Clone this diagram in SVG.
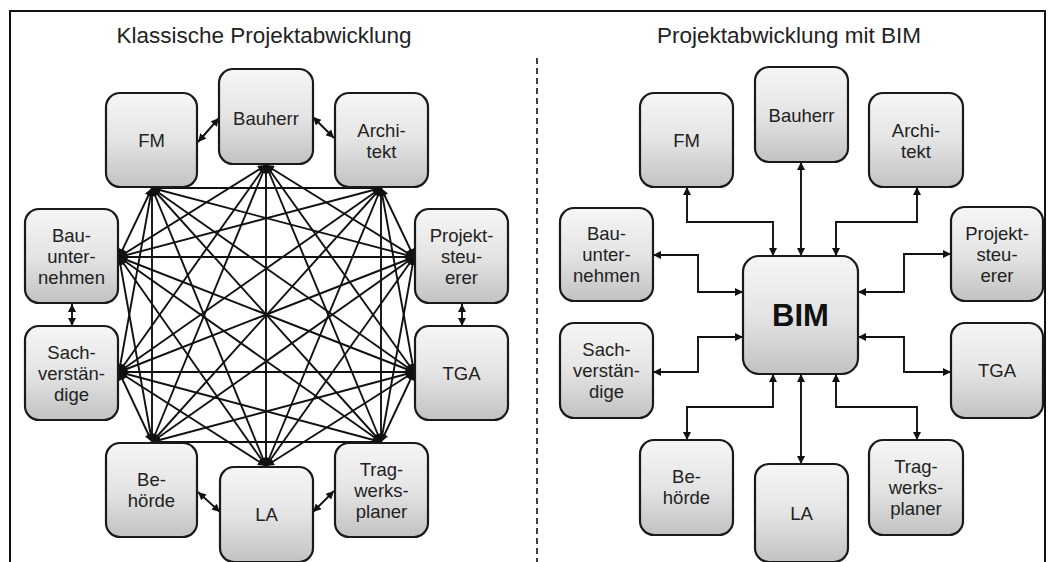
<svg xmlns="http://www.w3.org/2000/svg" width="1055" height="562" viewBox="0 0 1055 562">
<defs>
<linearGradient id="g" x1="0" y1="0" x2="0" y2="1">
<stop offset="0" stop-color="#f6f6f6"/>
<stop offset="0.5" stop-color="#e4e4e4"/>
<stop offset="1" stop-color="#c2c2c2"/>
</linearGradient>
<marker id="a" viewBox="0 0 10 10" refX="10" refY="5" markerWidth="9" markerHeight="8" markerUnits="userSpaceOnUse" orient="auto-start-reverse">
<path d="M0,0 L10,5 L0,10 z" fill="#111"/>
</marker>
</defs>
<style>
.box{fill:url(#g);stroke:#1a1a1a;stroke-width:2.2}
.t{font-family:"Liberation Sans",Arial,sans-serif;font-size:18.5px;fill:#222;text-anchor:middle}
.title{font-family:"Liberation Sans",Arial,sans-serif;font-size:22.5px;fill:#222;text-anchor:middle}
.big{font-family:"Liberation Sans",Arial,sans-serif;font-size:31px;font-weight:bold;fill:#111;text-anchor:middle}
.c line,.c path{stroke:#111;stroke-width:1.9;fill:none;marker-start:url(#a);marker-end:url(#a)}
</style>
<rect x="0" y="0" width="1055" height="562" fill="#fff"/>
<path d="M10,562 V11 H1045 V562" fill="none" stroke="#111" stroke-width="2"/>
<line x1="537" y1="58" x2="537" y2="562" stroke="#111" stroke-width="1.6" stroke-dasharray="6 4"/>
<text class="title" x="264" y="43">Klassische Projektabwicklung</text>
<text class="title" x="789" y="43">Projektabwicklung mit BIM</text>

<g id="connectors" class="c">
<line x1="152" y1="188" x2="381" y2="188"/>
<line x1="152" y1="188" x2="414" y2="257"/>
<line x1="152" y1="188" x2="414" y2="372"/>
<line x1="152" y1="188" x2="381" y2="442"/>
<line x1="152" y1="188" x2="266" y2="466"/>
<line x1="152" y1="188" x2="152" y2="442"/>
<line x1="152" y1="188" x2="119" y2="372"/>
<line x1="152" y1="188" x2="119" y2="257"/>
<line x1="266" y1="165" x2="414" y2="257"/>
<line x1="266" y1="165" x2="414" y2="372"/>
<line x1="266" y1="165" x2="381" y2="442"/>
<line x1="266" y1="165" x2="266" y2="466"/>
<line x1="266" y1="165" x2="152" y2="442"/>
<line x1="266" y1="165" x2="119" y2="372"/>
<line x1="266" y1="165" x2="119" y2="257"/>
<line x1="381" y1="188" x2="414" y2="257"/>
<line x1="381" y1="188" x2="414" y2="372"/>
<line x1="381" y1="188" x2="381" y2="442"/>
<line x1="381" y1="188" x2="266" y2="466"/>
<line x1="381" y1="188" x2="152" y2="442"/>
<line x1="381" y1="188" x2="119" y2="372"/>
<line x1="381" y1="188" x2="119" y2="257"/>
<line x1="414" y1="257" x2="381" y2="442"/>
<line x1="414" y1="257" x2="266" y2="466"/>
<line x1="414" y1="257" x2="152" y2="442"/>
<line x1="414" y1="257" x2="119" y2="372"/>
<line x1="414" y1="257" x2="119" y2="257"/>
<line x1="414" y1="372" x2="381" y2="442"/>
<line x1="414" y1="372" x2="266" y2="466"/>
<line x1="414" y1="372" x2="152" y2="442"/>
<line x1="414" y1="372" x2="119" y2="372"/>
<line x1="414" y1="372" x2="119" y2="257"/>
<line x1="381" y1="442" x2="152" y2="442"/>
<line x1="381" y1="442" x2="119" y2="372"/>
<line x1="381" y1="442" x2="119" y2="257"/>
<line x1="266" y1="466" x2="119" y2="372"/>
<line x1="266" y1="466" x2="119" y2="257"/>
<line x1="152" y1="442" x2="119" y2="372"/>
<line x1="152" y1="442" x2="119" y2="257"/>
<line x1="198" y1="142" x2="219" y2="118"/>
<line x1="313" y1="117" x2="334" y2="138"/>
<line x1="72" y1="304" x2="72" y2="326"/>
<line x1="462" y1="304" x2="462" y2="326"/>
<line x1="198" y1="492" x2="220" y2="512"/>
<line x1="313" y1="512" x2="334" y2="491"/>
<path d="M687,187 V222 H773 V256"/>
<path d="M801,162 V256"/>
<path d="M917,187 V222 H836 V256"/>
<path d="M653,255 H698 V292 H743"/>
<path d="M951,254 H904 V292 H858"/>
<path d="M653,372 H698 V337 H743"/>
<path d="M951,372 H904 V337 H858"/>
<path d="M773,374 V407 H687 V440"/>
<path d="M801,374 V464"/>
<path d="M836,374 V407 H917 V440"/>
</g>

<g id="l-fm"><rect class="box" x="106" y="93" width="91" height="94" rx="14"/><text class="t" x="151.5" y="147">FM</text></g>
<g id="l-bauherr"><rect class="box" x="219" y="69" width="94" height="95" rx="14"/><text class="t" x="266" y="125">Bauherr</text></g>
<g id="l-architekt"><rect class="box" x="335" y="93" width="93" height="94" rx="14"/><text class="t" x="381.5" y="137">Archi-</text><text class="t" x="381.5" y="158">tekt</text></g>
<g id="l-bauunternehmen"><rect class="box" x="25" y="209" width="93" height="94" rx="14"/><text class="t" x="71.5" y="242">Bau-</text><text class="t" x="71.5" y="263">unter-</text><text class="t" x="71.5" y="284">nehmen</text></g>
<g id="l-projektsteuerer"><rect class="box" x="415" y="209" width="93" height="94" rx="14"/><text class="t" x="461.5" y="242">Projekt-</text><text class="t" x="461.5" y="263">steu-</text><text class="t" x="461.5" y="284">erer</text></g>
<g id="l-sachverstaendige"><rect class="box" x="25" y="326" width="93" height="94" rx="14"/><text class="t" x="71.5" y="359">Sach-</text><text class="t" x="71.5" y="380">verstän-</text><text class="t" x="71.5" y="401">dige</text></g>
<g id="l-tga"><rect class="box" x="415" y="326" width="93" height="94" rx="14"/><text class="t" x="461.5" y="380">TGA</text></g>
<g id="l-behoerde"><rect class="box" x="106" y="443" width="91" height="94" rx="14"/><text class="t" x="151.5" y="486">Be-</text><text class="t" x="151.5" y="507">hörde</text></g>
<g id="l-la"><rect class="box" x="220" y="467" width="93" height="95" rx="14"/><text class="t" x="266.5" y="521">LA</text></g>
<g id="l-tragwerksplaner"><rect class="box" x="335" y="443" width="93" height="94" rx="14"/><text class="t" x="381.5" y="476">Trag-</text><text class="t" x="381.5" y="497">werks-</text><text class="t" x="381.5" y="518">planer</text></g>

<g id="r-fm"><rect class="box" x="640" y="93" width="93" height="94" rx="14"/><text class="t" x="686.5" y="147">FM</text></g>
<g id="r-bauherr"><rect class="box" x="755" y="67" width="93" height="95" rx="14"/><text class="t" x="801.5" y="122">Bauherr</text></g>
<g id="r-architekt"><rect class="box" x="869" y="93" width="94" height="94" rx="14"/><text class="t" x="916" y="137">Archi-</text><text class="t" x="916" y="158">tekt</text></g>
<g id="r-bauunternehmen"><rect class="box" x="560" y="208" width="93" height="93" rx="14"/><text class="t" x="606.5" y="240">Bau-</text><text class="t" x="606.5" y="261">unter-</text><text class="t" x="606.5" y="282">nehmen</text></g>
<g id="r-projektsteuerer"><rect class="box" x="951" y="207" width="92" height="94" rx="14"/><text class="t" x="997" y="240">Projekt-</text><text class="t" x="997" y="261">steu-</text><text class="t" x="997" y="282">erer</text></g>
<g id="r-bim"><rect class="box" x="743" y="256" width="115" height="118" rx="16"/><text class="big" x="800.5" y="326">BIM</text></g>
<g id="r-sachverstaendige"><rect class="box" x="560" y="323" width="93" height="95" rx="14"/><text class="t" x="606.5" y="356">Sach-</text><text class="t" x="606.5" y="377">verstän-</text><text class="t" x="606.5" y="398">dige</text></g>
<g id="r-tga"><rect class="box" x="951" y="323" width="92" height="95" rx="14"/><text class="t" x="997" y="377">TGA</text></g>
<g id="r-behoerde"><rect class="box" x="640" y="440" width="93" height="95" rx="14"/><text class="t" x="686.5" y="483">Be-</text><text class="t" x="686.5" y="504">hörde</text></g>
<g id="r-la"><rect class="box" x="755" y="464" width="93" height="98" rx="14"/><text class="t" x="801.5" y="520">LA</text></g>
<g id="r-tragwerksplaner"><rect class="box" x="869" y="440" width="94" height="95" rx="14"/><text class="t" x="916" y="473">Trag-</text><text class="t" x="916" y="494">werks-</text><text class="t" x="916" y="515">planer</text></g>
</svg>
